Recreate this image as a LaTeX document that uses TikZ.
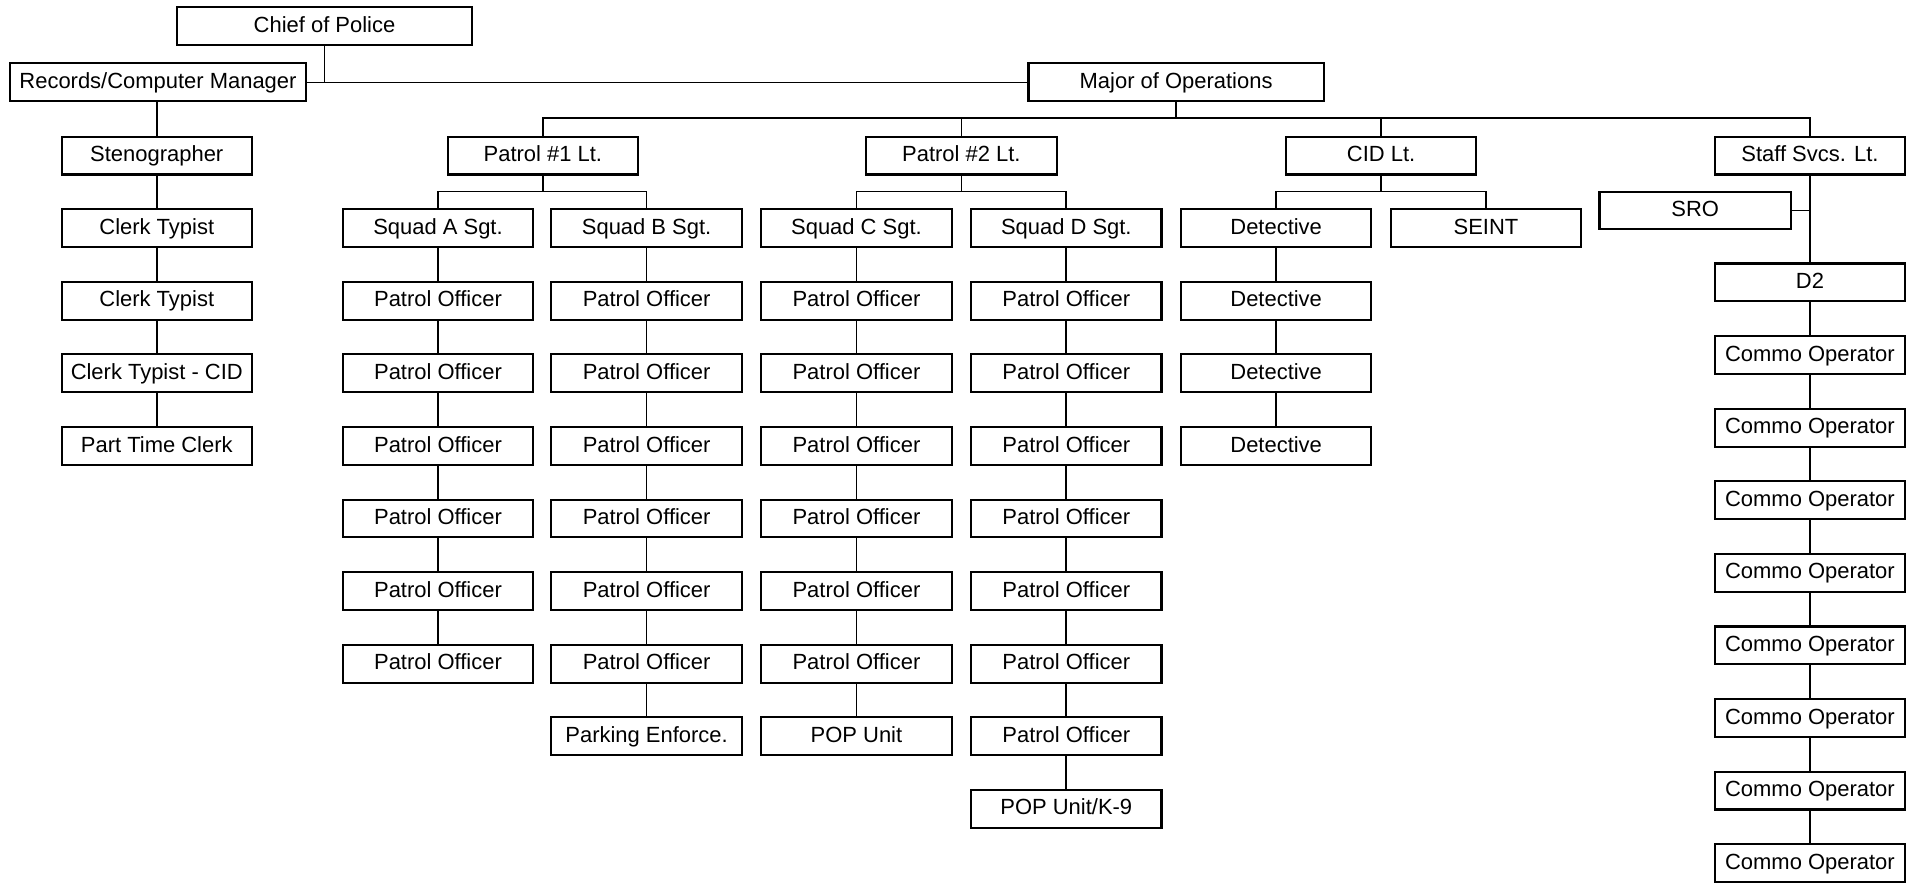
\documentclass[tikz,border=0pt]{standalone}
\usepackage{fontspec}
\setmainfont{Liberation Sans}
\begin{document}
\begin{tikzpicture}[x=0.5pt,y=-0.5pt,
  box/.style={draw,line width=0.85pt,rectangle,minimum height=15.5pt,minimum width=78pt,inner sep=0pt,text height=6.6pt,text depth=1.6pt,font=\fontsize{9}{10}\selectfont,anchor=center},
  widebox/.style={minimum width=121pt},
  conn/.style={line width=0.7pt}]
\useasboundingbox (0,0) rectangle (1568,723);
% top
\node[box,widebox] (chief) at (266,21.5) {Chief of Police};
\node[box,widebox,minimum width=121.5pt] (rec) at (129.5,67.5) {Records/Computer Manager};
\node[box,widebox] (maj) at (964,67.5) {Major of Operations};
\coordinate (busA) at (0,97);
\coordinate (busB) at (0,157);
\draw[conn] (chief.south) -- (chief.south |- rec.east);
\draw[conn] (rec.east) -- (maj.west);
% left column
\foreach \n/\y/\t in {l0/127.5/Stenographer,l1/187/Clerk Typist,l2/246.5/Clerk Typist,l3/306/Clerk Typist - CID,l4/365.5/Part Time Clerk}
  \node[box] (\n) at (128.5,\y) {\t};
\draw[conn] (l0.north |- rec.south) -- (l0.north);
\foreach \u/\v in {l0/l1,l1/l2,l2/l3,l3/l4}
  \draw[conn] (\u.south) -- (\v.north);
% lieutenants
\node[box] (p1) at (445,127.5) {Patrol \#1 Lt.};
\node[box] (p2) at (788,127.5) {Patrol \#2 Lt.};
\node[box] (cid) at (1132,127.5) {CID Lt.};
\node[box] (ss) at (1483.5,127.5) {Staff Svcs. Lt.};
\draw[conn] (maj.south) -- (maj.south |- busA);
\draw[conn] (p1.north) -- (p1.north |- busA) -- (ss.north |- busA) -- (ss.north);
\draw[conn] (p2.north) -- (p2.north |- busA);
\draw[conn] (cid.north) -- (cid.north |- busA);
% squads
\node[box] (sa) at (359,187) {Squad A Sgt.};
\node[box] (sb) at (530,187) {Squad B Sgt.};
\node[box] (sc) at (702,187) {Squad C Sgt.};
\node[box] (sd) at (874,187) {Squad D Sgt.};
\node[box] (d0) at (1046,187) {Detective};
\node[box] (seint) at (1218,187) {SEINT};
\draw[conn] (p1.south) -- (p1.south |- busB);
\draw[conn] (sa.north) -- (sa.north |- busB) -- (sb.north |- busB) -- (sb.north);
\draw[conn] (p2.south) -- (p2.south |- busB);
\draw[conn] (sc.north) -- (sc.north |- busB) -- (sd.north |- busB) -- (sd.north);
\draw[conn] (cid.south) -- (cid.south |- busB);
\draw[conn] (d0.north) -- (d0.north |- busB) -- (seint.north |- busB) -- (seint.north);
% patrol officers
\foreach \i/\y in {1/246.5,2/306,3/365.5,4/425,5/484.5,6/544} {
  \node[box] (a\i) at (359,\y) {Patrol Officer};
  \node[box] (b\i) at (530,\y) {Patrol Officer};
  \node[box] (c\i) at (702,\y) {Patrol Officer};
  \node[box] (d\i) at (874,\y) {Patrol Officer};
}
\node[box] (b7) at (530,603.5) {Parking Enforce.};
\node[box] (c7) at (702,603.5) {POP Unit};
\node[box] (d7) at (874,603.5) {Patrol Officer};
\node[box] (d8) at (874,663) {POP Unit/K-9};
\foreach \u/\v in {sa/a1,a1/a2,a2/a3,a3/a4,a4/a5,a5/a6,
  sb/b1,b1/b2,b2/b3,b3/b4,b4/b5,b5/b6,b6/b7,
  sc/c1,c1/c2,c2/c3,c3/c4,c4/c5,c5/c6,c6/c7,
  sd/d1,d1/d2,d2/d3,d3/d4,d4/d5,d5/d6,d6/d7,d7/d8}
  \draw[conn] (\u.south) -- (\v.north);
% detectives
\foreach \i/\y in {1/246.5,2/306,3/365.5}
  \node[box] (e\i) at (1046,\y) {Detective};
\foreach \u/\v in {d0/e1,e1/e2,e2/e3}
  \draw[conn] (\u.south) -- (\v.north);
% staff services
\node[box,minimum width=78.5pt] (sro) at (1389.5,172.5) {SRO};
\node[box] (dtwo) at (1483.5,231.5) {D2};
\draw[conn] (ss.south) -- (dtwo.north);
\draw[conn] (sro.east) -- (sro.east -| ss.south);
\foreach \i/\y in {1/291,2/350.5,3/410,4/469.5,5/529,6/588.5,7/648,8/707.5}
  \node[box] (co\i) at (1483.5,\y) {Commo Operator};
\foreach \u/\v in {dtwo/co1,co1/co2,co2/co3,co3/co4,co4/co5,co5/co6,co6/co7,co7/co8}
  \draw[conn] (\u.south) -- (\v.north);
\end{tikzpicture}
\end{document}
